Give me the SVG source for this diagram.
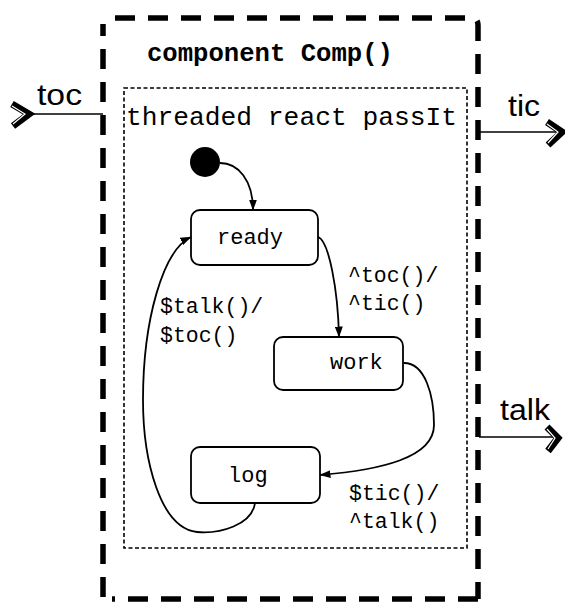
<svg xmlns="http://www.w3.org/2000/svg" width="565" height="603" viewBox="0 0 565 603">
<defs>
<marker id="ah" viewBox="0 0 11 8" refX="10.5" refY="4" markerWidth="11" markerHeight="8" markerUnits="userSpaceOnUse" orient="auto">
<path d="M0,0 L11,4 L0,8 z" fill="#000"/>
</marker>
</defs>
<style>
.outer{fill:none;stroke:#000;stroke-width:5.5;stroke-dasharray:20 13}
.inner{fill:none;stroke:#000;stroke-width:1.6;stroke-dasharray:4 2.5}
.state{fill:#fff;stroke:#000;stroke-width:1.8}
.edge{fill:none;stroke:#000;stroke-width:1.8}
.port{fill:none;stroke:#000;stroke-width:1.6}
.chev{fill:none;stroke:#000;stroke-width:7;stroke-linejoin:miter}
.chevw{fill:none;stroke:#fff;stroke-width:1.2}
.mono{font-family:"Liberation Mono","Courier New",monospace;fill:#000}
.sans{font-family:"Liberation Sans",Arial,sans-serif;fill:#000;font-size:29px}
</style>
<rect width="565" height="603" fill="#fff"/>
<g id="component">
<path class="outer" d="M103 597 V24 M115 18 H471 Q478 18 478 25 V599 M478 599 H112"/>
<text class="mono" x="147" y="61" font-size="25.5" font-weight="bold" textLength="246" lengthAdjust="spacingAndGlyphs">component Comp()</text>
</g>
<g id="passIt">
<rect class="inner" x="124" y="88" width="343" height="460"/>
<text class="mono" x="126" y="125" font-size="26" textLength="331" lengthAdjust="spacingAndGlyphs">threaded react passIt</text>
</g>
<g id="initial">
<circle cx="205" cy="162" r="15" fill="#000"/>
</g>
<g id="ready">
<rect class="state" x="191" y="210" width="127" height="55" rx="9"/>
<text class="mono" x="217" y="244" font-size="22">ready</text>
</g>
<g id="work">
<rect class="state" x="274" y="337" width="129" height="53" rx="9"/>
<text class="mono" x="330" y="369" font-size="22">work</text>
</g>
<g id="log">
<rect class="state" x="191" y="447" width="129" height="56" rx="9"/>
<text class="mono" x="228" y="482" font-size="22">log</text>
</g>
<g id="connectors">
<path class="edge" d="M220 163 C238 163 253 180 253 210" marker-end="url(#ah)"/>
<path class="edge" d="M318 237 C329 241 338 290 339 337" marker-end="url(#ah)"/>
<path class="edge" d="M404 363 C425 363 434 395 434 425 C434 458 380 470 320 475" marker-end="url(#ah)"/>
<path class="edge" d="M255 503 C252 525 220 534 197 532 C160 528 143 460 143 400 C143 320 163 250 191 237" marker-end="url(#ah)"/>
<path class="port" d="M30 114 H103"/>
<polyline class="chev" points="12,104 29,114 13,126"/>
<polyline class="chevw" points="12,106 25,114 13,124"/>
<path class="port" d="M479 132 H558"/>
<polyline class="chev" points="547,122 562,132 548,145"/>
<polyline class="chevw" points="547,124 558,132 548,143"/>
<path class="port" d="M479 437 H555"/>
<polyline class="chev" points="547,427 558,438 548,451"/>
<polyline class="chevw" points="547,429 555,438 548,449"/>
</g>
<g id="labels">
<text class="sans" x="37" y="105" textLength="45" lengthAdjust="spacingAndGlyphs">toc</text>
<text class="sans" x="508" y="116" textLength="32" lengthAdjust="spacingAndGlyphs">tic</text>
<text class="sans" x="500" y="420" textLength="50" lengthAdjust="spacingAndGlyphs">talk</text>
<text class="mono" font-size="21.5"><tspan x="348" y="282">^toc()/</tspan><tspan x="348" y="310">^tic()</tspan></text>
<text class="mono" font-size="21.5"><tspan x="160" y="313">$talk()/</tspan><tspan x="160" y="342">$toc()</tspan></text>
<text class="mono" font-size="21.5"><tspan x="349" y="500">$tic()/</tspan><tspan x="349" y="528">^talk()</tspan></text>
</g>
</svg>
